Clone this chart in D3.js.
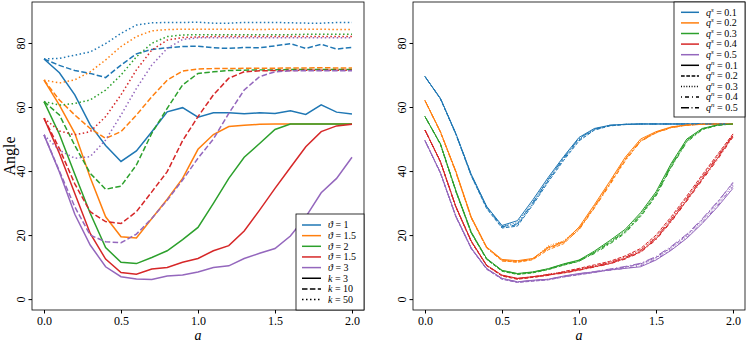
<!DOCTYPE html>
<html lang="en">
<head>
<meta charset="UTF-8">
<title>Angle against a</title>
<script src="https://d3js.org/d3.v7.min.js"></script>
<style>
  body { margin: 0; background: #fff; }
  svg text { font-family: "Liberation Serif", "DejaVu Serif", serif; fill: #000; }
</style>
</head>
<body>
<div id="chart"></div>
<script>

// shared x values and ticks
var aVals = [0, 0.1, 0.2, 0.3, 0.4, 0.5, 0.6, 0.7, 0.8, 0.9, 1.0, 1.1, 1.2, 1.3, 1.4, 1.5, 1.6, 1.7, 1.8, 1.9, 2.0];
var xTicks = [0, 0.5, 1, 1.5, 2];
var yTicks = [0, 20, 40, 60, 80];
var colors = ["#1f77b4", "#ff7f0e", "#2ca02c", "#d62728", "#9467bd"];

// ---- left panel: colour = theta, line style = k ----
var thetaLabels = ["1", "1.5", "2", "1.5", "3"];
var kLabels = ["3", "10", "50"];

var leftK3 = [
  [75, 70.7, 63.8, 54.4, 48, 43, 46.3, 52.3, 58.5, 59.8, 56.8, 58.2, 58.2, 57.9, 58.2, 58, 58.8, 57.7, 60.7, 58.4, 57.8],
  [68.4, 60.6, 51.8, 38, 25.7, 19.5, 19.1, 25.2, 31.2, 37.7, 46.8, 51.4, 53.9, 54.3, 54.6, 54.7, 54.7, 54.7, 54.7, 54.7, 54.7],
  [61.7, 51.5, 39, 26.8, 16.1, 11.5, 11.1, 13, 15.1, 18.6, 22.4, 29.9, 37.7, 44.3, 48.6, 53, 54.7, 54.7, 54.7, 54.7, 54.7],
  [56.5, 45.5, 33, 20.5, 12.5, 8.3, 7.8, 9.4, 9.9, 11.5, 12.7, 15.1, 16.7, 21.3, 27.8, 34.6, 41.1, 47.6, 52.3, 54.1, 54.6],
  [51.3, 39.7, 26.5, 16.9, 10.1, 7, 6.3, 6.1, 7.2, 7.5, 8.5, 9.9, 10.4, 12.7, 14.3, 15.8, 19.7, 25.7, 33.2, 37.7, 44.3]
];
var leftK10 = [
  [75, 73, 71.4, 70.5, 69.2, 73.1, 76.6, 78, 78.5, 78.9, 79, 78.5, 78.3, 78.6, 78.5, 79.1, 79.8, 78.3, 79.6, 78.1, 78.6],
  [68.4, 62.2, 57.5, 53.3, 50.2, 52.3, 57.5, 63.2, 68.4, 71.2, 71.9, 72, 72, 72.1, 72.1, 72.1, 72.2, 72.2, 72.3, 72.2, 72.2],
  [61.7, 57.5, 48, 39.3, 34.3, 35.3, 41.9, 51.8, 59.6, 66.9, 70.5, 71, 71.4, 71.5, 71.6, 71.6, 71.7, 71.7, 71.7, 71.7, 71.7],
  [56.5, 47, 36, 27.3, 24.2, 23.6, 27.3, 33.5, 39.8, 49.5, 57, 63.8, 69, 71, 71.3, 71.4, 71.4, 71.5, 71.5, 71.5, 71.5],
  [51.3, 40, 28.8, 20, 17.9, 17.6, 20.3, 25.2, 30.9, 37.2, 44, 50, 58, 65.3, 69.5, 71, 71.3, 71.3, 71.3, 71.3, 71.3]
];
var leftK50 = [
  [75, 75.2, 76.2, 77.2, 79.8, 83, 85.6, 86.3, 86.4, 86.4, 86.5, 86.2, 86.2, 86.4, 86.4, 86.4, 86.3, 86.2, 86.2, 86.4, 86.4],
  [68.4, 67.5, 68.5, 71, 74.7, 78.9, 82, 83.8, 84.2, 84.3, 84.3, 84.3, 84.3, 84.3, 84.2, 84.3, 84.3, 84.3, 84.3, 84.2, 84.2],
  [61.7, 60.6, 61.1, 62.2, 65.3, 70, 75.7, 79.9, 82, 82.5, 82.6, 82.6, 82.6, 82.6, 82.6, 82.6, 82.6, 82.7, 82.7, 82.7, 82.7],
  [56.5, 52.5, 51.3, 52.3, 57, 63.8, 71.6, 77.8, 80.9, 81.7, 81.9, 82, 82, 82, 82, 82, 82, 82, 82, 82, 82],
  [51.3, 46.5, 44, 44.5, 49.7, 57.5, 65.8, 73.1, 78.3, 81.1, 81.6, 81.6, 81.6, 81.6, 81.6, 81.6, 81.6, 81.6, 81.6, 81.6, 81.6]
];

// ---- right panel: colour = q^s, line style = q^n ----
var qsLabels = ["0.1", "0.2", "0.3", "0.4", "0.5"];
var qnLabels = ["0.1", "0.2", "0.3", "0.4", "0.5"];

var rightQn1 = [
  [69.5, 62.7, 51.8, 39, 29, 23, 24.5, 31, 38, 44.5, 50.5, 53.3, 54.3, 54.6, 54.7, 54.7, 54.7, 54.7, 54.7, 54.7, 54.7],
  [62, 52.3, 40, 25.7, 16.3, 12.4, 12, 12.7, 16, 17.8, 22.5, 29.5, 36.8, 44.3, 50, 52.3, 53.8, 54.4, 54.6, 54.7, 54.7],
  [57, 48.5, 34, 21, 12.7, 9, 8, 8.5, 9.5, 11, 12.2, 15, 18.3, 21.8, 27, 33.5, 42.5, 50, 53.3, 54.4, 54.7],
  [52.8, 43, 29, 18.2, 10.6, 7.5, 6.5, 7, 7.6, 8.2, 9.1, 10.1, 11.1, 12.7, 14.8, 18.8, 24.5, 30.9, 37.5, 44, 51],
  [49.5, 39.5, 26, 16, 9.6, 6.5, 5.4, 5.9, 6.2, 7.2, 8, 8.5, 9.1, 9.6, 10.1, 12.2, 15.3, 19, 23.6, 28.8, 34.6]
];
var rightQn2 = [
  [69.5, 62.5, 51.5, 38.5, 28.3, 22.2, 22.8, 29.4, 36.6, 43.3, 49.4, 52.8, 54.1, 54.5, 54.7, 54.7, 54.7, 54.7, 54.7, 54.7, 54.7],
  [62, 52.1, 39.6, 25.3, 16, 12, 11.5, 12.3, 15.4, 17.3, 21.8, 28.6, 35.9, 43.4, 49.3, 52, 53.6, 54.3, 54.6, 54.7, 54.7],
  [57, 48.3, 33.6, 20.6, 12.4, 8.7, 7.7, 8.2, 9.2, 10.6, 11.8, 14.5, 17.5, 20.9, 26, 32.5, 41.5, 49.3, 53, 54.3, 54.7],
  [52.8, 42.8, 28.7, 17.9, 10.4, 7.2, 6.2, 6.8, 7.4, 8.6, 9.6, 10.7, 11.8, 13.5, 15.8, 20, 25.8, 32.2, 38.8, 45.2, 51.6],
  [49.5, 39.3, 25.7, 15.7, 9.3, 6.2, 5.2, 5.6, 6, 6.9, 7.6, 8.3, 9.2, 10, 11, 13, 16.2, 20, 24.8, 30.2, 36.5]
];
var rightQn3 = [
  [69.5, 62.6, 51.7, 38.8, 28.9, 22.8, 23.9, 30.4, 37.5, 44, 50, 53.1, 54.2, 54.6, 54.7, 54.7, 54.7, 54.7, 54.7, 54.7, 54.7],
  [62, 52.2, 39.8, 25.5, 16.1, 12.2, 11.8, 12.5, 16.6, 18.2, 22.2, 29, 36.4, 43.9, 49.6, 52.2, 53.7, 54.4, 54.6, 54.7, 54.7],
  [57, 48.4, 33.8, 20.8, 12.5, 8.9, 7.9, 8.4, 9.4, 10.8, 12, 14.8, 18, 21.4, 26.6, 33.1, 42.1, 49.8, 53.2, 54.4, 54.7],
  [52.8, 42.9, 28.8, 18, 10.5, 7.4, 6.4, 6.9, 7.8, 8.5, 9.4, 10.4, 11.5, 13.2, 15.4, 19.5, 25.3, 31.7, 38.3, 44.8, 51.4],
  [49.5, 39.4, 25.8, 15.9, 9.5, 6.4, 5.3, 5.8, 6.1, 7.1, 7.8, 8.5, 9.3, 10, 10.8, 12.8, 15.9, 19.6, 24.3, 29.6, 35.6]
];
var rightQn4 = [
  [69.5, 62.6, 51.6, 38.6, 28.6, 22.5, 23.2, 29.8, 37, 43.7, 49.7, 52.9, 54.2, 54.6, 54.7, 54.7, 54.7, 54.7, 54.7, 54.7, 54.7],
  [62, 52.2, 39.7, 25.4, 16, 11.9, 11.6, 12.4, 15.8, 17.6, 21.6, 28.4, 35.6, 43.1, 49.2, 51.9, 53.5, 54.3, 54.6, 54.7, 54.7],
  [57, 48.4, 33.7, 20.7, 12.5, 8.8, 7.8, 8.3, 9.3, 10.7, 11.9, 14.2, 17.2, 20.6, 25.7, 32.2, 41.2, 49, 52.9, 54.3, 54.7],
  [52.8, 42.9, 28.9, 18.1, 10.5, 7.3, 6.3, 6.8, 7.5, 8.1, 9, 10, 11, 12.5, 14.6, 18.5, 24.2, 30.6, 37.1, 43.6, 50.6],
  [49.5, 39.4, 25.9, 15.8, 9.4, 6.3, 5.3, 5.7, 6.1, 7, 7.7, 8.4, 9, 9.6, 10.4, 12.4, 15.5, 19.2, 23.9, 29.2, 35.2]
];
var rightQn5 = [
  [69.5, 62.7, 51.7, 38.9, 28.8, 22.6, 23.5, 30.1, 37.3, 44.1, 50.2, 53.1, 54.3, 54.6, 54.7, 54.7, 54.7, 54.7, 54.7, 54.7, 54.7],
  [62, 52.3, 39.9, 25.6, 16.2, 12.1, 11.7, 12.6, 16.3, 18, 22, 28.9, 36.2, 43.7, 49.5, 52.1, 53.7, 54.4, 54.6, 54.7, 54.7],
  [57, 48.5, 33.9, 20.9, 12.6, 8.9, 7.9, 8.4, 9.4, 10.9, 12.1, 14.6, 17.8, 21.2, 26.3, 32.8, 41.8, 49.6, 53.1, 54.4, 54.7],
  [52.8, 43, 28.9, 18.1, 10.6, 7.4, 6.4, 7, 7.7, 8.4, 9.3, 10.3, 11.4, 13, 15.2, 19.2, 25, 31.4, 38, 44.5, 51.2],
  [49.5, 39.5, 25.9, 16, 9.5, 6.4, 5.4, 5.8, 6.2, 7.1, 7.9, 8.6, 9.4, 10.2, 11.2, 13.3, 16.5, 20.3, 25.1, 30.5, 36.2]
];

// line styles
var leftDash = ["none", "5.5,2.4", "1.5,2.5"];
var rightDash = ["none", "3.7,1.6", "1,1.65", "1,3,4,3", "8,2.5,1,2.5"];

var W = 747, H = 342;
var svg = d3.select("#chart").append("svg")
  .attr("width", W)
  .attr("height", H);

// one panel: frame, axes, curves
function drawPanel(x0, x1, seriesSets, dashes, lw, withYLabel) {
  var x = d3.scaleLinear().domain([-0.078, 2.078]).range([x0, x1]);
  var y = d3.scaleLinear().domain([-3.4, 92.8]).range([310, 2]);

  var g = svg.append("g");

  var line = d3.line()
    .x(function(d, i) { return x(aVals[i]); })
    .y(function(d) { return y(d); });

  seriesSets.forEach(function(set, si) {
    set.forEach(function(vals, ci) {
      g.append("path")
        .attr("d", line(vals))
        .attr("fill", "none")
        .attr("stroke", colors[ci])
        .attr("stroke-width", lw)
        .attr("stroke-dasharray", dashes[si]);
    });
  });

  // x axis
  var xa = g.append("g")
    .attr("transform", "translate(0,310)")
    .call(d3.axisBottom(x).tickValues(xTicks).tickFormat(d3.format(".1f"))
      .tickSize(3.5).tickPadding(3));
  xa.select(".domain").remove();
  xa.selectAll("text").style("font-size", "12px");

  // y axis, labels rotated like the original
  var ya = g.append("g")
    .attr("transform", "translate(" + x0 + ",0)")
    .call(d3.axisLeft(y).tickValues(yTicks).tickSize(3.5));
  ya.select(".domain").remove();
  ya.selectAll("text")
    .attr("x", null).attr("dy", null)
    .attr("text-anchor", "middle")
    .attr("transform", "translate(-7,0) rotate(-90)")
    .style("font-size", "12px");

  // frame
  g.append("rect")
    .attr("x", x0).attr("y", 2)
    .attr("width", x1 - x0).attr("height", 308)
    .attr("fill", "none")
    .attr("stroke", "#000")
    .attr("stroke-width", 0.8);

  // axis labels
  g.append("text")
    .attr("x", (x0 + x1) / 2).attr("y", 340)
    .attr("text-anchor", "middle")
    .style("font-size", "14px")
    .style("font-style", "italic")
    .text("a");

  if (withYLabel) {
    g.append("text")
      .attr("transform", "translate(15,156) rotate(-90)")
      .attr("text-anchor", "middle")
      .style("font-size", "16px")
      .text("Angle");
  }
}

drawPanel(32, 364, [leftK3, leftK10, leftK50], leftDash, 1.5, true);
drawPanel(413, 745, [rightQn1, rightQn2, rightQn3, rightQn4, rightQn5], rightDash, 1, false);

// legend helper: entries = [{color, dash, parts:[[text, italic, sup]]}]
function drawLegend(bx, by, bw, bh, x0, x1, tx, ty0, step, entries, lw) {
  var lg = svg.append("g");
  lg.append("rect")
    .attr("x", bx).attr("y", by)
    .attr("width", bw).attr("height", bh)
    .attr("fill", "#fff")
    .attr("stroke", "#000")
    .attr("stroke-width", 0.8);
  entries.forEach(function(e, i) {
    var yy = ty0 + i * step;
    lg.append("line")
      .attr("x1", x0).attr("x2", x1)
      .attr("y1", yy).attr("y2", yy)
      .attr("stroke", e.color)
      .attr("stroke-width", lw)
      .attr("stroke-dasharray", e.dash);
    var t = lg.append("text")
      .attr("x", tx).attr("y", yy + 3.3)
      .style("font-size", "10px");
    e.parts.forEach(function(p) {
      var s = t.append("tspan").text(p[0]);
      if (p[1]) s.style("font-style", "italic");
      if (p[2]) s.attr("baseline-shift", "super").style("font-size", "7px");
    });
  });
}

var leftEntries = [];
thetaLabels.forEach(function(l, i) {
  leftEntries.push({ color: colors[i], dash: "none", parts: [["\u03D1", true], [" = " + l]] });
});
kLabels.forEach(function(l, i) {
  leftEntries.push({ color: "#000", dash: leftDash[i], parts: [["k", true], [" = " + l]] });
});
drawLegend(296, 214, 68, 96, 302, 321, 328, 225, 10.65, leftEntries, 1.5);

var rightEntries = [];
qsLabels.forEach(function(l, i) {
  rightEntries.push({ color: colors[i], dash: "none", parts: [["q", true], ["s", true, true], [" = " + l]] });
});
qnLabels.forEach(function(l, i) {
  rightEntries.push({ color: "#000", dash: rightDash[i], parts: [["q", true], ["n", true, true], [" = " + l]] });
});
drawLegend(674, 2, 71, 115, 681, 699, 706, 12.3, 10.6, rightEntries, 1.5);

</script>
</body>
</html>
